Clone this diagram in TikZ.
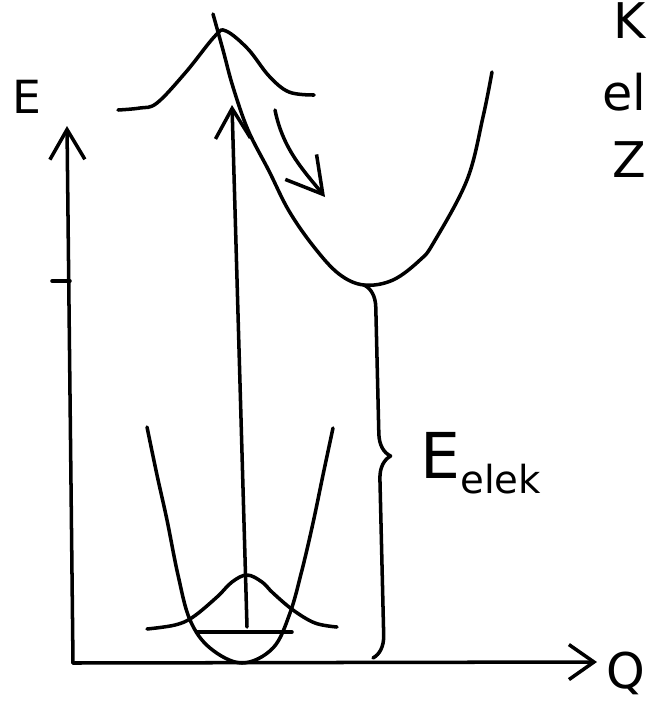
\documentclass[tikz,border=0pt]{standalone}
\usepackage{fontspec}
\setmainfont{DejaVu Sans}
\usetikzlibrary{arrows.meta,decorations.pathreplacing}

\begin{document}
\begin{tikzpicture}[
  x=0.02cm, y=-0.02cm,
  curve/.style={line width=2pt, line cap=round, line join=round},
  arrow/.style={curve, -{Straight Barb[length=6mm,width=7mm]}},
  brace/.style={curve, decorate, decoration={brace, amplitude=0.45cm, aspect=0.46}},
  hand/.style={inner sep=0pt, anchor=base west}
]
  \useasboundingbox (0,0) rectangle (648,704);
  \clip (0,0) rectangle (648,704);

  \coordinate (origin) at (73,663);
  \coordinate (Etip) at (67,126);
  \coordinate (Qtip) at (597,662);
  \coordinate (vib0) at (247,627);
  \coordinate (vibtop) at (232,105);
  \coordinate (relaxA) at (275,110);
  \coordinate (relaxB) at (325,197);
  \coordinate (exmin) at (364,285);
  \coordinate (bracebot) at (373,658);

  \draw[arrow] (origin) -- (Etip);
  \draw[curve, -{Straight Barb[length=5mm,width=7mm]}] (origin) -- (Qtip);
  \draw[curve] (52,281) -- (70,281);

  \draw[curve] plot[smooth, tension=0.6] coordinates {(147,427) (157,475) (167,520) (178,575) (190,620) (210,648) (242,663) (273,648) (290,613) (302,570) (313,523) (323,475) (333,428)};
  \draw[curve] (197,632) -- (292,632);
  \draw[curve] plot[smooth, tension=0.6] coordinates {(147,629) (175,625) (193,617) (217,597) (232,582) (247,575) (262,582) (273,593) (293,610) (315,623) (337,627)};

  \draw[curve] plot[smooth, tension=0.6] coordinates {(213,14) (223,50) (233,87) (248,130) (269,171) (289,211) (314,247) (339,274) (364,285) (393,280) (420,260) (434,242) (467,180) (483,117) (492,72)};
  \draw[curve] plot[smooth, tension=0.6] coordinates {(118,110) (140,108) (157,103) (186,72) (215,36) (226,31) (248,49) (269,76) (289,92) (314,95)};

  \draw[arrow] (vib0) -- (vibtop);
  \draw[arrow, -{Straight Barb[length=7mm,width=8mm]}] (relaxA) .. controls (283,150) and (305,172) .. (relaxB);
  \draw[brace] (exmin) -- (bracebot);

  \node[hand, font=\fontsize{26}{26}\selectfont] (Elabel) at (12,113) {E};
  \node[hand, font=\fontsize{28}{28}\selectfont] (Qlabel) at (606,688) {Q};
  \node[hand, font=\fontsize{36}{36}\selectfont] (Eelek) at (420,478) {E\raisebox{-0.3cm}{\fontsize{22}{22}\selectfont elek}};
  \node[hand, font=\fontsize{28}{28}\selectfont] (noteK) at (613,38) {K};
  \node[hand, font=\fontsize{28}{28}\selectfont] (noteel) at (602,110) {el};
  \node[hand, font=\fontsize{28}{28}\selectfont] (noteZ) at (612,177) {Z};
\end{tikzpicture}
\end{document}
